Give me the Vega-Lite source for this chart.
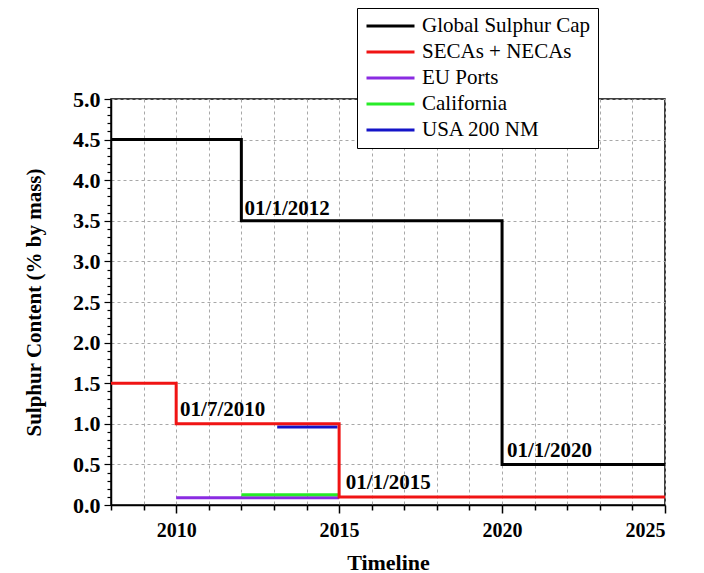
{
  "$schema": "https://vega.github.io/schema/vega-lite/v6.json",
  "width": 554,
  "height": 406,
  "autosize": "none",
  "padding": {"left": 111, "top": 99, "right": 39, "bottom": 68},
  "background": "white",
  "config": {
    "font": "Liberation Serif",
    "view": {"stroke": "black", "strokeWidth": 1.5}
  },
  "datasets": {
    "lines": [
      {"series": "Global Sulphur Cap", "seq": 1, "year": 2008, "value": 4.5},
      {"series": "Global Sulphur Cap", "seq": 2, "year": 2012, "value": 4.5},
      {"series": "Global Sulphur Cap", "seq": 3, "year": 2012, "value": 3.5},
      {"series": "Global Sulphur Cap", "seq": 4, "year": 2020, "value": 3.5},
      {"series": "Global Sulphur Cap", "seq": 5, "year": 2020, "value": 0.5},
      {"series": "Global Sulphur Cap", "seq": 6, "year": 2025, "value": 0.5},
      {"series": "EU Ports", "seq": 1, "year": 2010, "value": 0.09},
      {"series": "EU Ports", "seq": 2, "year": 2015, "value": 0.09},
      {"series": "California", "seq": 1, "year": 2012, "value": 0.125},
      {"series": "California", "seq": 2, "year": 2015, "value": 0.125},
      {"series": "USA 200 NM", "seq": 1, "year": 2013.1, "value": 0.96},
      {"series": "USA 200 NM", "seq": 2, "year": 2014.95, "value": 0.96},
      {"series": "SECAs + NECAs", "seq": 1, "year": 2008, "value": 1.5},
      {"series": "SECAs + NECAs", "seq": 2, "year": 2010, "value": 1.5},
      {"series": "SECAs + NECAs", "seq": 3, "year": 2010, "value": 1.0},
      {"series": "SECAs + NECAs", "seq": 4, "year": 2015, "value": 1.0},
      {"series": "SECAs + NECAs", "seq": 5, "year": 2015, "value": 0.1},
      {"series": "SECAs + NECAs", "seq": 6, "year": 2025, "value": 0.1}
    ],
    "notes": [
      {"label": "01/1/2012", "year": 2012.1, "value": 3.57},
      {"label": "01/7/2010", "year": 2010.12, "value": 1.1},
      {"label": "01/1/2015", "year": 2015.2, "value": 0.195},
      {"label": "01/1/2020", "year": 2020.15, "value": 0.59}
    ]
  },
  "layer": [
    {
      "data": {"name": "lines"},
      "mark": {"type": "line", "strokeWidth": 3, "interpolate": "linear", "clip": false},
      "encoding": {
        "x": {
          "field": "year", "type": "quantitative",
          "scale": {"domain": [2008, 2025], "nice": false, "zero": false},
          "axis": {
            "title": "Timeline",
            "titleFont": "Liberation Serif", "titleFontSize": 22, "titleFontWeight": "bold", "titleColor": "black", "titlePadding": 12,
            "values": [2008, 2009, 2010, 2011, 2012, 2013, 2014, 2015, 2016, 2017, 2018, 2019, 2020, 2021, 2022, 2023, 2024, 2025],
            "tickCount": 200,
            "labelExpr": "datum.value % 5 === 0 ? format(datum.value, 'd') : ''",
            "labelFont": "Liberation Serif", "labelFontSize": 20, "labelFontWeight": "bold", "labelColor": "black", "labelPadding": 7,
            "domainColor": "black", "domainWidth": 1.5,
            "tickColor": "black", "tickWidth": 1.5,
            "tickSize": {"condition": {"test": "datum.value % 5 === 0", "value": 8}, "value": 5},
            "grid": true, "gridColor": "#a8a8a8", "gridDash": [3, 3], "gridWidth": 1,
            "labelOverlap": false
          }
        },
        "y": {
          "field": "value", "type": "quantitative",
          "scale": {"domain": [0, 5], "nice": false},
          "axis": {
            "title": "Sulphur Content (% by mass)",
            "titleFont": "Liberation Serif", "titleFontSize": 21, "titleFontWeight": "bold", "titleColor": "black", "titlePadding": 28,
            "values": [0, 0.1, 0.2, 0.3, 0.4, 0.5, 0.6, 0.7, 0.8, 0.9, 1, 1.1, 1.2, 1.3, 1.4, 1.5, 1.6, 1.7, 1.8, 1.9, 2, 2.1, 2.2, 2.3, 2.4, 2.5, 2.6, 2.7, 2.8, 2.9, 3, 3.1, 3.2, 3.3, 3.4, 3.5, 3.6, 3.7, 3.8, 3.9, 4, 4.1, 4.2, 4.3, 4.4, 4.5, 4.6, 4.7, 4.8, 4.9, 5],
            "tickCount": 200,
            "labelExpr": "round(datum.value * 10) % 5 === 0 ? format(datum.value, '.1f') : ''",
            "labelFont": "Liberation Serif", "labelFontSize": 22, "labelFontWeight": "bold", "labelColor": "black", "labelPadding": 4,
            "domainColor": "black", "domainWidth": 1.5,
            "tickColor": "black", "tickWidth": 1.2,
            "tickSize": {"condition": {"test": "round(datum.value * 10) % 5 === 0", "value": 7}, "value": 4},
            "grid": true, "gridColor": "#a8a8a8", "gridDash": [3, 3], "gridWidth": 1,
            "gridOpacity": {"condition": {"test": "round(datum.value * 10) % 5 === 0", "value": 1}, "value": 0},
            "labelOverlap": false
          }
        },
        "color": {
          "field": "series", "type": "nominal",
          "scale": {
            "domain": ["Global Sulphur Cap", "SECAs + NECAs", "EU Ports", "California", "USA 200 NM"],
            "range": ["#000000", "#f01414", "#8a2be2", "#28ec28", "#1414c8"]
          },
          "legend": {
            "title": null,
            "orient": "none", "legendX": 246, "legendY": -91,
            "symbolType": "stroke", "symbolSize": 2304, "symbolStrokeWidth": 3,
            "labelFont": "Liberation Serif", "labelFontSize": 21, "labelColor": "black",
            "clipHeight": 20, "rowPadding": 5, "labelOffset": 6,
            "strokeColor": "black", "fillColor": "white", "padding": 8,
            "labelLimit": 300
          }
        },
        "order": {"field": "seq", "type": "quantitative"}
      }
    },
    {
      "data": {"name": "notes"},
      "mark": {"type": "text", "font": "Liberation Serif", "fontSize": 21, "fontWeight": "bold", "align": "left", "baseline": "alphabetic", "color": "black"},
      "encoding": {
        "x": {"field": "year", "type": "quantitative"},
        "y": {"field": "value", "type": "quantitative"},
        "text": {"field": "label"}
      }
    }
  ]
}
